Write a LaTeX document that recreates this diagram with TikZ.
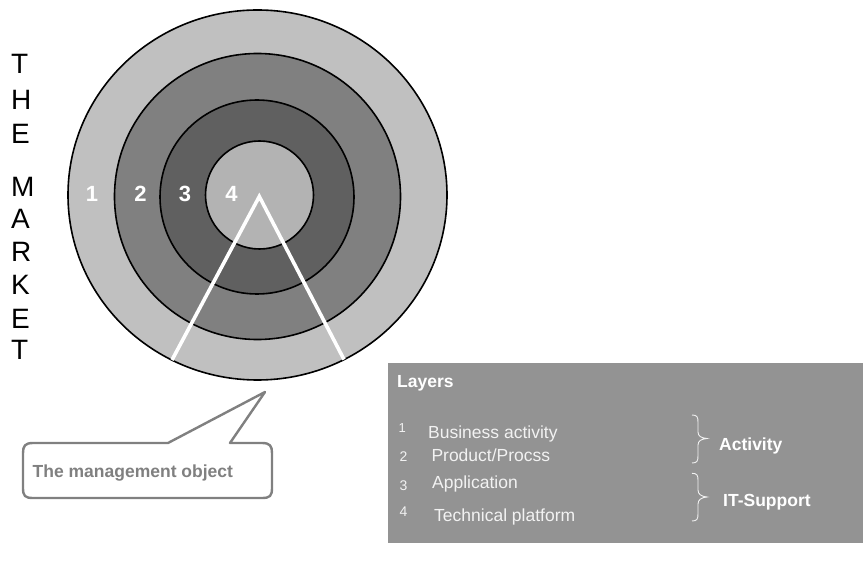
\documentclass[tikz,border=0pt]{standalone}
\usepackage{fontspec}
\setmainfont{Liberation Sans}
\definecolor{ringA}{HTML}{C0C0C0}
\definecolor{ringB}{HTML}{808080}
\definecolor{ringC}{HTML}{606060}
\definecolor{ringD}{HTML}{B3B3B3}
\definecolor{boxgray}{HTML}{939393}
\definecolor{boxtext}{HTML}{F2F2F2}
\definecolor{callgray}{HTML}{808080}
\begin{document}
\begin{tikzpicture}[x=1pt,y=-1pt,
  ringline/.style={draw=black, line width=1.6pt},
  digit/.style={text=white, font=\fontsize{22}{26}\selectfont\bfseries, inner sep=0pt, anchor=base},
  market/.style={text=black, font=\fontsize{28}{33}\selectfont, inner sep=0pt, anchor=base west},
  boxtxt/.style={text=boxtext, font=\fontsize{17.5}{21}\selectfont, inner sep=0pt, anchor=base west},
  boxnum/.style={text=boxtext, font=\fontsize{14}{17}\selectfont, inner sep=0pt, anchor=base west},
  boxbold/.style={text=white, font=\fontsize{17.5}{21}\selectfont\bfseries, inner sep=0pt, anchor=base west},
  bracestyle/.style={draw=boxtext, line width=0.9pt},
  callout/.style={draw=callgray, line width=2.4pt, fill=white, line join=round}]
\useasboundingbox (0,0) rectangle (863,561);
\fill[white] (0,0) rectangle (863,561);

% concentric layers
\draw[ringline, fill=ringA] (257.5,195) ellipse [x radius=189.5, y radius=185];
\draw[ringline, fill=ringB] (257.5,196.5) circle [radius=143];
\draw[ringline, fill=ringC] (257,197) circle [radius=97];
\draw[ringline, fill=ringD] (259.5,195) circle [radius=54];

% management object wedge
\coordinate (apex) at (259.3,196.5);
\coordinate (wl) at (172,360);
\coordinate (wr) at (344,359.5);
\draw[white, line width=3.6pt] (wl) -- (apex) -- (wr);

% layer numbers
\node[digit] (d1) at (92,201.7) {1};
\node[digit] (d2) at (140.5,201.7) {2};
\node[digit] (d3) at (185,201.7) {3};
\node[digit] (d4) at (231.5,201.7) {4};

% THE MARKET
\foreach \l/\yy [count=\i] in {T/73.3, H/110, E/144, M/196.7, A/228.3, R/261.7, K/295, E/328.3, T/360}
  \node[market] (mk\i) at (11,\yy) {\l};

% callout
\coordinate (ctip) at (265,392);
\draw[callout] (168,443) -- (ctip) -- (230,443) -- (262,443)
  .. controls (270,443) and (272,446) .. (272,453) -- (272,488)
  .. controls (272,496) and (270,498) .. (262,498) -- (33,498)
  .. controls (25,498) and (23,496) .. (23,488) -- (23,453)
  .. controls (23,446) and (25,443) .. (33,443) -- cycle;
\node[text=callgray, font=\fontsize{17.5}{21}\selectfont\bfseries, inner sep=0pt, anchor=base west] (mgmt) at (32.5,477.3) {The management object};

% layers box
\fill[boxgray] (388,363) rectangle (863,543);
\node[boxbold] (layers) at (397,387.3) {Layers};
\node[boxnum] (n1) at (398.5,432.7) {\fontsize{13}{16}\selectfont 1};
\node[boxnum] (n2) at (399.5,461.7) {2};
\node[boxnum] (n3) at (399.5,490) {3};
\node[boxnum] (n4) at (399.5,516.7) {4};
\node[boxtxt] (t1) at (428,439) {Business activity};
\node[boxtxt] (t2) at (431.3,461) {Product/Procss};
\node[boxtxt] (t3) at (432,489) {Application};
\node[boxtxt] (t4) at (434,521.7) {Technical platform};

% braces
\draw[bracestyle] (692,415) .. controls (697,415) and (698,417) .. (698,422) -- (698,432)
  .. controls (698,436) and (701,438) .. (707,438.5)
  .. controls (701,439) and (698,441) .. (698,445) -- (698,456)
  .. controls (698,461) and (697,463) .. (692,463);
\draw[bracestyle] (692,473.3) .. controls (697,473.3) and (698,475.3) .. (698,480) -- (698,490)
  .. controls (698,494) and (701,496.5) .. (707,497)
  .. controls (701,497.5) and (698,500) .. (698,504) -- (698,514)
  .. controls (698,519) and (697,521) .. (692,521);
\node[boxbold] (act) at (719,450.5) {Activity};
\node[boxbold] (its) at (723,506.7) {IT-Support};
\end{tikzpicture}
\end{document}
